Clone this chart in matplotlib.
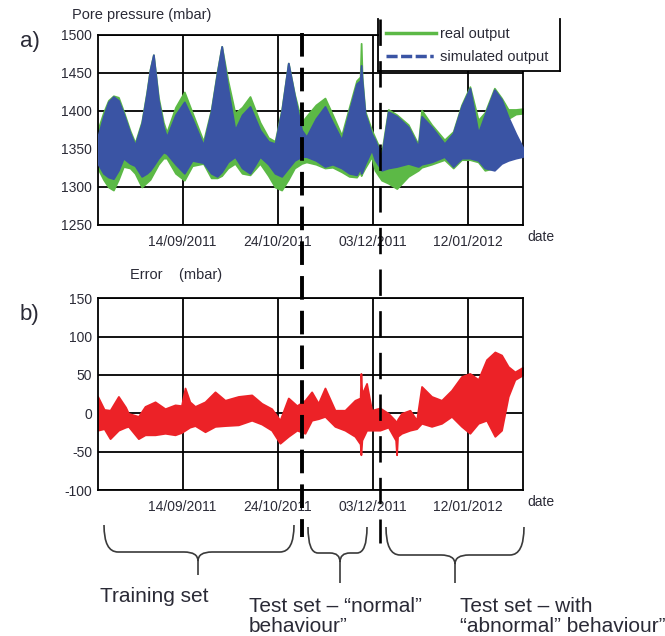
import numpy as np
import pandas as pd
import matplotlib
matplotlib.use("Agg")
import matplotlib.pyplot as plt
import matplotlib.dates as mdates
import matplotlib.transforms as mtransforms
from matplotlib.path import Path
from matplotlib.patches import PathPatch, Rectangle
from matplotlib.lines import Line2D

# ---- data (days counted from 14/09/2011) ----
origin = pd.Timestamp("2011-09-14")
x_start, x_end = -35.7, 142.9

days_top = [-35.7, -33.3, -31.2, -29.1, -27, -24.9, -22.1, -20, -17.2, -15.1, -13.7, -12.3, -10.2,
            -8.1, -6.7, -3, 0.7, 4, 8.7, 12, 14.5, 16.4, 19, 22, 25, 28.3, 32.5, 36, 38.8, 41.6,
            44.4, 47, 50, 52, 56, 59.8, 63, 66.8, 70, 73.1, 74.6, 75, 75.4, 76.6, 79.4, 80.8,
            83.6, 86.4, 90, 94.8, 99, 100.4, 104.6, 110, 113.7, 117.2, 120.7, 124.2, 127,
            131, 134, 136.8, 140, 142.9]
sim_upper = [1366, 1393, 1412, 1419, 1414, 1397, 1371, 1355, 1384, 1423, 1454, 1474, 1414,
             1379, 1366, 1395, 1412, 1390, 1355, 1400, 1450, 1485, 1430, 1375, 1395, 1406, 1375, 1360, 1357, 1400,
             1463, 1420, 1375, 1366, 1390, 1406, 1385, 1362, 1400, 1436, 1440, 1460, 1440, 1397, 1370, 1362,
             1340, 1399, 1393, 1379, 1353, 1393, 1379, 1357, 1371, 1406, 1430, 1371, 1395,
             1428, 1415, 1392, 1370, 1352]
sim_lower = [1331, 1318, 1313, 1311, 1322, 1338, 1331, 1328, 1314, 1318, 1322, 1328, 1338,
             1346, 1344, 1330, 1318, 1335, 1332, 1318, 1314, 1320, 1333, 1340, 1325, 1318, 1340, 1330, 1318, 1314,
             1325, 1335, 1340, 1340, 1335, 1327, 1330, 1325, 1318, 1316, 1325, 1318, 1320, 1330, 1349, 1336,
             1322, 1325, 1327, 1331, 1327, 1330, 1333, 1340, 1327, 1338, 1338, 1335, 1325,
             1322, 1331, 1335, 1338, 1340]
real_upper = [1375, 1398, 1414, 1420, 1418, 1400, 1374, 1358, 1386, 1425, 1455, 1474, 1418,
              1385, 1372, 1405, 1425, 1398, 1360, 1402, 1452, 1485, 1440, 1397, 1405, 1419, 1385, 1365, 1360, 1402,
              1463, 1422, 1385, 1393, 1408, 1417, 1395, 1368, 1405, 1440, 1445, 1489, 1445, 1400, 1375, 1365,
              1345, 1402, 1395, 1382, 1356, 1401, 1382, 1362, 1373, 1408, 1432, 1388, 1398,
              1430, 1417, 1402, 1402, 1403]
real_lower = [1325, 1310, 1300, 1296, 1310, 1327, 1325, 1318, 1300, 1306, 1310, 1318, 1330,
              1338, 1338, 1318, 1309, 1328, 1331, 1312, 1312, 1315, 1325, 1331, 1318, 1316, 1331, 1315, 1300, 1296,
              1310, 1325, 1331, 1333, 1330, 1325, 1326, 1320, 1314, 1313, 1320, 1315, 1318, 1325, 1340, 1322,
              1309, 1305, 1298, 1314, 1322, 1326, 1330, 1336, 1325, 1336, 1336, 1333, 1322,
              1325, 1340, 1390, 1396, 1397]

days_err = [-35.7, -33, -30.5, -27, -24, -22.8, -18.6, -15.8, -11.6, -7.4, -3.2, -0.5, 1, 3, 5.2,
            9.4, 13.6, 17.8, 23.4, 29, 33.2, 37.4, 40.9, 44.4, 48, 51.4, 54.2, 57, 59.8, 64,
            68.2, 72.4, 74.6, 74.9, 75.3, 77.3, 79.4, 82.9, 86.4, 89.5, 89.9, 90.3, 92, 95.5,
            98.3, 100.4, 104.6, 108.8, 113, 117.2, 120.7, 124.2, 127.7, 131.2, 134, 136.8,
            139.6, 142.9]
err_upper = [22, 5, 4, 22, 8, 0, -4, 9, 15, 6, 11, 10, 33, 15, 9,
             15, 28, 17, 22, 24, 13, 6, -9, 20, 10, 17, 28, 13, 33, 4,
             4, 17, 20, 52, 25, 39, 4, 7, 0, -10, -17, -8, 0, 4,
             -9, 35, 22, 17, 30, 48, 52, 44, 70, 80, 76, 61,
             54, 60]
err_lower = [-22, -20, -33, -22, -18, -17, -33, -28, -28, -26, -28, -25, -22, -18, -16,
             -24, -17, -16, -15, -9, -14, -22, -39, -30, -22, -26, -9, -7, -4, -17,
             -22, -30, -40, -54, -35, -22, -22, -22, -18, -35, -54, -30, -26, -22,
             -20, -13, -17, -13, -4, -17, -26, -13, -9, -30, -22, 22,
             44, 50]

tick_dates = ["2011-09-14", "2011-10-24", "2011-12-03", "2012-01-12"]
tick_labels = ["14/09/2011", "24/10/2011", "03/12/2011", "12/01/2012"]
split_dates = ["2011-11-03 07:00", "2011-12-05 22:00"]

GREEN = "#5cb946"
BLUE = "#3a54a4"
RED = "#ec2227"
TXT = "#2a2a36"

plt.rcParams["font.family"] = ["Liberation Sans", "DejaVu Sans"]
plt.rcParams["lines.scale_dashes"] = False
plt.rcParams["axes.unicode_minus"] = False

W, H = 665, 636
fig = plt.figure(figsize=(W / 100, H / 100), dpi=100)


def fx(px):
    return px / W


def fy(py):
    return 1 - py / H


def to_dates(days):
    return origin + pd.to_timedelta(np.asarray(days, dtype=float), unit="D")


ax1 = fig.add_axes([fx(97.7), fy(225), (522.7 - 97.7) / W, (225 - 35) / H])
ax2 = fig.add_axes([fx(97.7), fy(490), (522.7 - 97.7) / W, (490 - 298.3) / H])

# bands drawn with a slightly thick edge in the same colour, like the dense raw signal
t_top = to_dates(days_top)
ax1.fill_between(t_top, real_lower, real_upper, color=GREEN, lw=1.3, zorder=2)
ax1.fill_between(t_top, sim_lower, sim_upper, color=BLUE, lw=1.3, zorder=3)

t_err = to_dates(days_err)
ax2.fill_between(t_err, err_lower, err_upper, color=RED, lw=1.3, zorder=2)

ax1.set_ylim(1250, 1500)
ax1.set_yticks(np.arange(1250, 1501, 50))
ax2.set_ylim(-100, 150)
ax2.set_yticks(np.arange(-100, 151, 50))

for ax in (ax1, ax2):
    ax.set_xlim(to_dates([x_start, x_end]))
    ax.set_xticks(pd.to_datetime(tick_dates))
    ax.set_xticklabels(tick_labels)
    ax.grid(True, color="black", lw=1.3)
    ax.set_axisbelow(True)
    ax.tick_params(length=0, labelsize=10, colors=TXT)
    ax.tick_params(axis="y", pad=4)
    ax.tick_params(axis="x", pad=7)
    for s in ax.spines.values():
        s.set_linewidth(1.3)
        s.set_color("black")
    ax.annotate("date", xy=(1, 0), xycoords="axes fraction", xytext=(5, -12),
                textcoords="offset pixels", fontsize=10, color=TXT, va="center")

# labels
fig.text(fx(72), fy(15), "Pore pressure (mbar)", fontsize=10.5, color=TXT, va="center")
fig.text(fx(130), fy(275), "Error    (mbar)", fontsize=10.5, color=TXT, va="center")
fig.text(fx(20), fy(41), "a)", fontsize=16, color=TXT, va="center")
fig.text(fx(20), fy(315), "b)", fontsize=16, color=TXT, va="center")

# legend with open-top box
fig.patches.append(Rectangle((fx(379), fy(71)), (560 - 379) / W, 52 / H,
                             transform=fig.transFigure, facecolor="white",
                             edgecolor="none", zorder=4))
for xs, ys in [([378, 378], [19, 71]), ([378, 560], [71, 71]), ([560, 560], [19, 71])]:
    fig.lines.append(Line2D([fx(v) for v in xs], [fy(v) for v in ys],
                            transform=fig.transFigure, color="black", lw=1.3, zorder=5))
handles = [Line2D([], [], color=GREEN, lw=2.5),
           Line2D([], [], color=BLUE, lw=2.5, dashes=(8, 2.5, 8, 2.5, 8, 2.5, 2.5, 2.5))]
leg = fig.legend(handles, ["real output", "simulated output"], loc="upper left",
                 bbox_to_anchor=(fx(386), fy(27)), frameon=False, fontsize=10.5,
                 handlelength=3.4, handletextpad=0.3, labelspacing=0.6,
                 borderaxespad=0, borderpad=0)
leg.set_zorder(6)
for t in leg.get_texts():
    t.set_color(TXT)

# split lines, x from the data axis
blend = mtransforms.blended_transform_factory(ax1.transData, fig.transFigure)
xs1, xs2 = mdates.date2num(pd.to_datetime(split_dates))
l1 = Line2D([xs1, xs1], [fy(33), fy(537)], transform=blend, color="black", lw=2.8,
            dashes=(17, 8), zorder=10)
l2 = Line2D([xs2, xs2], [fy(19), fy(543)], transform=blend, color="black", lw=1.9,
            dashes=(19, 11), zorder=10)
fig.lines.extend([l1, l2])


def brace(x0, x1, ytop, yflat, xtip, ytip, r=14):
    ymid = yflat + 9
    pts = [(x0, ytop), (x0, yflat), (x0 + r, yflat), (xtip - r, yflat),
           (xtip, yflat), (xtip, ymid), (xtip, ytip),
           (xtip, ymid), (xtip, yflat), (xtip + r, yflat), (x1 - r, yflat),
           (x1, yflat), (x1, ytop)]
    codes = [Path.MOVETO, Path.CURVE3, Path.CURVE3, Path.LINETO,
             Path.CURVE3, Path.CURVE3, Path.LINETO,
             Path.MOVETO, Path.CURVE3, Path.CURVE3, Path.LINETO,
             Path.CURVE3, Path.CURVE3]
    path = Path([(fx(a), fy(b)) for a, b in pts], codes)
    fig.patches.append(PathPatch(path, transform=fig.transFigure, facecolor="none",
                                 edgecolor="#3a3a3a", lw=1.2))


brace(104, 294, 525, 552, 198, 575)
brace(308, 367, 527, 553, 340, 583, r=10)
brace(386, 524, 527, 555, 455, 583)

fig.text(fx(100), fy(597), "Training set", fontsize=15, color=TXT, va="center")
fig.text(fx(249), fy(606), "Test set \u2013 \u201cnormal\u201d", fontsize=15, color=TXT, va="center")
fig.text(fx(249), fy(627), "behaviour\u201d", fontsize=15, color=TXT, va="center")
fig.text(fx(460), fy(606), "Test set \u2013 with", fontsize=15, color=TXT, va="center")
fig.text(fx(460), fy(627), "\u201cabnormal\u201d behaviour\u201d", fontsize=15, color=TXT, va="center")

fig.savefig("out.png", dpi=100)
